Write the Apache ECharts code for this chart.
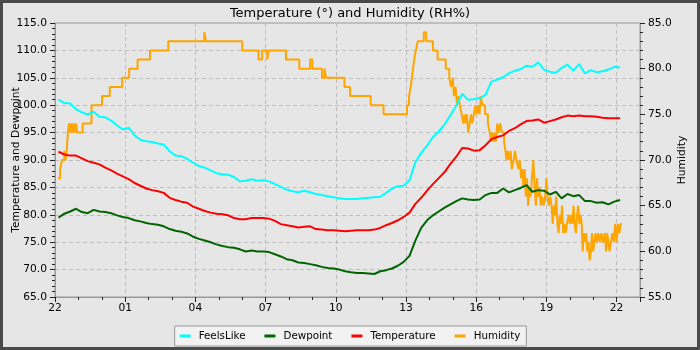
<!DOCTYPE html>
<html>
<head>
<meta charset="utf-8">
<script src="https://cdn.jsdelivr.net/npm/echarts@6/dist/echarts.min.js"></script>
<style>
html,body{margin:0;padding:0;background:#e6e6e6;}
#chart{width:700px;height:350px;}
</style>
</head>
<body>
<div id="chart"></div>
<script>
// Hours since 22:00 for the sampled series (start 22:09, every 15 minutes)
var START_HOUR = 22;
var sampleStart = 0.15, sampleStep = 0.25;

var temperature = [91.5,91.0,90.8,90.8,90.3,89.8,89.5,89.2,88.6,88.1,87.5,87.0,86.5,85.8,85.3,84.8,84.5,84.3,84.0,83.1,
  82.7,82.4,82.2,81.5,81.1,80.7,80.4,80.2,80.1,79.9,79.4,79.2,79.2,79.4,79.4,79.4,79.3,78.9,78.3,78.1,
  77.9,77.7,77.8,77.9,77.4,77.3,77.2,77.2,77.1,77.0,77.1,77.2,77.2,77.2,77.3,77.6,78.1,78.5,79.0,79.6,
  80.4,82.0,83.1,84.4,85.6,86.7,87.8,89.3,90.6,92.2,92.1,91.7,91.8,92.7,93.8,94.2,94.5,95.3,95.8,96.5,
  97.1,97.2,97.4,96.8,97.1,97.4,97.8,98.1,98.0,98.1,98.0,98.0,97.9,97.7,97.6,97.6,97.6];

var feelsLike = [101.0,100.4,100.3,99.3,98.7,98.3,98.8,97.9,97.8,97.2,96.3,95.6,95.9,94.5,93.7,93.4,93.3,93.0,92.8,91.6,
  90.8,90.7,90.2,89.5,88.9,88.6,88.1,87.6,87.4,87.3,86.9,86.1,86.2,86.5,86.2,86.3,86.1,85.6,85.1,84.6,
  84.3,84.1,84.4,84.1,83.8,83.6,83.4,83.2,83.0,82.9,82.9,82.9,83.0,83.1,83.2,83.3,84.0,84.8,85.2,85.3,
  86.3,89.6,91.3,92.6,94.2,95.2,96.5,98.2,99.9,102.1,101.0,101.1,101.3,101.9,104.3,104.7,105.1,105.8,106.3,106.6,
  107.2,107.0,107.8,106.5,106.1,105.9,106.8,107.4,106.3,107.5,105.8,106.4,106.0,106.2,106.5,107.0,106.9];

var dewpoint = [79.5,80.2,80.6,81.1,80.5,80.3,80.9,80.6,80.5,80.3,79.9,79.6,79.4,79.0,78.8,78.5,78.3,78.2,77.9,77.4,
  77.1,76.9,76.6,76.0,75.6,75.3,75.0,74.6,74.3,74.1,74.0,73.7,73.3,73.5,73.3,73.3,73.2,72.8,72.4,71.9,
  71.7,71.3,71.2,71.0,70.8,70.5,70.3,70.2,70.0,69.7,69.5,69.4,69.4,69.3,69.2,69.7,69.9,70.2,70.7,71.4,
  72.5,75.3,77.6,79.0,79.9,80.6,81.3,81.9,82.5,83.0,82.8,82.7,82.8,83.6,84.0,84.0,84.8,84.1,84.5,84.9,
  85.4,84.2,84.5,84.4,83.7,84.2,83.0,83.8,83.4,83.6,82.5,82.5,82.2,82.3,81.9,82.4,82.7];

// Humidity change points (hours since 22:00, %RH)
var humidityTimes = [0.13,0.22,0.3,0.4,0.45,0.5,0.55,0.6,0.65,0.7,0.75,0.8,0.85,0.9,0.95,1.18,1.56,2.01,2.34,2.87,
  3.17,3.53,4.06,4.84,6.38,6.45,8.0,8.7,8.85,9.07,9.13,9.87,10.44,10.9,11.0,11.41,11.52,11.58,12.37,12.61,
  13.49,14.04,15.04,15.13,15.2,15.25,15.3,15.35,15.42,15.5,15.76,15.86,16.15,16.35,16.7,16.85,16.92,17.0,17.05,17.12,
  17.18,17.24,17.3,17.38,17.45,17.5,17.55,17.6,17.66,17.72,17.78,17.83,17.9,17.96,18.02,18.08,18.14,18.2,18.26,18.38,
  18.5,18.58,18.63,18.68,18.73,18.78,18.84,18.9,18.97,19.03,19.1,19.19,19.25,19.3,19.35,19.41,19.47,19.52,19.6,19.66,
  19.72,19.8,19.86,19.92,19.97,20.02,20.07,20.12,20.17,20.22,20.28,20.33,20.38,20.44,20.5,20.55,20.6,20.65,20.7,20.76,
  20.82,20.88,20.95,21.0,21.05,21.1,21.16,21.22,21.27,21.32,21.37,21.42,21.47,21.52,21.57,21.62,21.67,21.72,21.77,21.82,
  21.88,21.95,22.0,22.06,22.11,22.16,22.21,22.26,22.31,22.36,22.41,22.46,22.51,22.55,22.6,22.65,22.7,22.75,22.8,22.85,
  22.9,22.95,23.0,23.05,23.1,23.15,23.22,23.28,23.35,23.42,23.5,23.55,23.6,23.65,23.7,23.76,23.82,23.88,23.94,24.0,
  24.06,24.12,24.17,24.23];
var humidityValues = [68,69,70,71,70,71,73,74,73,74,73,74,73,74,73,74,76,77,78,79,
  80,81,82,83,84,83,82,81,82,81,82,81,80,81,80,79,80,79,78,77,
  76,75,76,77,78,79,80,81,82,83,84,83,82,81,80,79,78,79,77,78,
  76,77,76,75,74,75,74,75,73,74,75,74,75,76,75,76,75,77,76,75,
  74,73,72,73,72,73,72,74,73,74,73,72,71,70,71,70,71,69,70,71,
  70,69,70,68,69,67,69,66,68,65,67,66,68,70,67,65,68,66,67,65,
  66,65,66,68,66,65,66,65,63,65,64,66,63,62,64,63,65,62,63,62,
  63,64,63,64,63,65,63,62,64,65,63,64,63,60,62,61,62,60,61,59,
  60,62,60,61,62,61,62,61,62,61,62,60,62,61,60,61,62,61,63,61,
  63,62,63,63];

var xTickHours = ['22','01','04','07','10','13','16','19','22'];

function sampled(vals){
  return vals.map(function(v,i){ return [sampleStart + i*sampleStep, v]; });
}
var humData = humidityTimes.map(function(t,i){ return [t, humidityValues[i]]; });

var chart = echarts.init(document.getElementById('chart'), null, {renderer:'canvas'});
var FONT = 'DejaVu Sans';
var tickCol = '#222';
var axisCol = '#999';
var gridLine = {show:true, lineStyle:{color:'#bdbdbd', type:[4,3], width:1}};

chart.setOption({
  backgroundColor:'#e6e6e6',
  animation:false,
  textStyle:{fontFamily:FONT},
  title:{
    text:'Temperature (°) and Humidity (RH%)',
    left:'center', top:2,
    textStyle:{fontFamily:FONT, fontSize:13, fontWeight:'normal', color:'#000'}
  },
  graphic:[{
    type:'rect', silent:true, z:100,
    shape:{x:1.5, y:1.5, width:697, height:347},
    style:{fill:'none', stroke:'#4a4a4a', lineWidth:3}
  }],
  legend:{
    data:['FeelsLike','Dewpoint','Temperature','Humidity'],
    left:'center', top:326,
    backgroundColor:'#f2f2f2', borderColor:'#9a9a9a', borderWidth:1, borderRadius:0,
    padding:[5,6,5,5], itemGap:19, itemWidth:11, itemHeight:3,
    icon:'rect',
    textStyle:{fontFamily:FONT, fontSize:10.3, color:'#000', padding:[0,0,0,3]}
  },
  grid:{left:55, right:60, top:23, bottom:53, containLabel:false, outerBoundsMode:'none',
    show:true, borderColor:axisCol, borderWidth:1, backgroundColor:'transparent'},
  xAxis:{
    type:'value', min:0, max:25, interval:3,
    axisLine:{show:true, onZero:false, lineStyle:{color:axisCol}},
    axisTick:{show:true, length:5, lineStyle:{color:tickCol}},
    minorTick:{show:true, splitNumber:3, length:3, lineStyle:{color:tickCol}},
    axisLabel:{fontFamily:FONT, fontSize:10.7, color:'#000', margin:6, showMaxLabel:false,
      formatter:function(v){ var k = Math.round(v/3); return (Math.abs(v - k*3) < 1e-6 && k < xTickHours.length) ? xTickHours[k] : ''; }},
    splitLine:gridLine
  },
  yAxis:[{
    type:'value', min:65, max:115, interval:5, position:'left',
    name:'Temperature and Dewpoint', nameLocation:'middle', nameRotate:90, nameGap:33, nameMoveOverlap:false,
    nameTextStyle:{fontFamily:FONT, fontSize:10.7, color:'#000'},
    axisLine:{show:true, lineStyle:{color:axisCol}},
    axisTick:{show:true, length:5, lineStyle:{color:tickCol}},
    minorTick:{show:true, splitNumber:5, length:3, lineStyle:{color:tickCol}},
    axisLabel:{fontFamily:FONT, fontSize:10.7, color:'#000', margin:8, formatter:function(v){return v.toFixed(1);}},
    splitLine:gridLine
  },{
    type:'value', min:55, max:85, interval:5, position:'right',
    name:'Humidity', nameLocation:'middle', nameRotate:90, nameGap:37, nameMoveOverlap:false,
    nameTextStyle:{fontFamily:FONT, fontSize:10.7, color:'#000'},
    axisLine:{show:true, lineStyle:{color:axisCol}},
    axisTick:{show:true, length:5, lineStyle:{color:tickCol}},
    minorTick:{show:true, splitNumber:5, length:3, lineStyle:{color:tickCol}},
    axisLabel:{fontFamily:FONT, fontSize:10.7, color:'#000', margin:8, formatter:function(v){return v.toFixed(1);}},
    splitLine:{show:false}
  }],
  series:[
    {name:'Humidity', type:'line', yAxisIndex:1, step:'end', data:humData, showSymbol:false, symbol:'none',
      lineStyle:{color:'#ffa500', width:2}, itemStyle:{color:'#ffa500'}, z:2},
    {name:'Temperature', type:'line', data:sampled(temperature), showSymbol:false, symbol:'none',
      lineStyle:{color:'#ff0000', width:2}, itemStyle:{color:'#ff0000'}, z:3},
    {name:'Dewpoint', type:'line', data:sampled(dewpoint), showSymbol:false, symbol:'none',
      lineStyle:{color:'#006400', width:2}, itemStyle:{color:'#006400'}, z:3},
    {name:'FeelsLike', type:'line', data:sampled(feelsLike), showSymbol:false, symbol:'none',
      lineStyle:{color:'#00ffff', width:2}, itemStyle:{color:'#00ffff'}, z:3}
  ]
});
</script>
</body>
</html>
